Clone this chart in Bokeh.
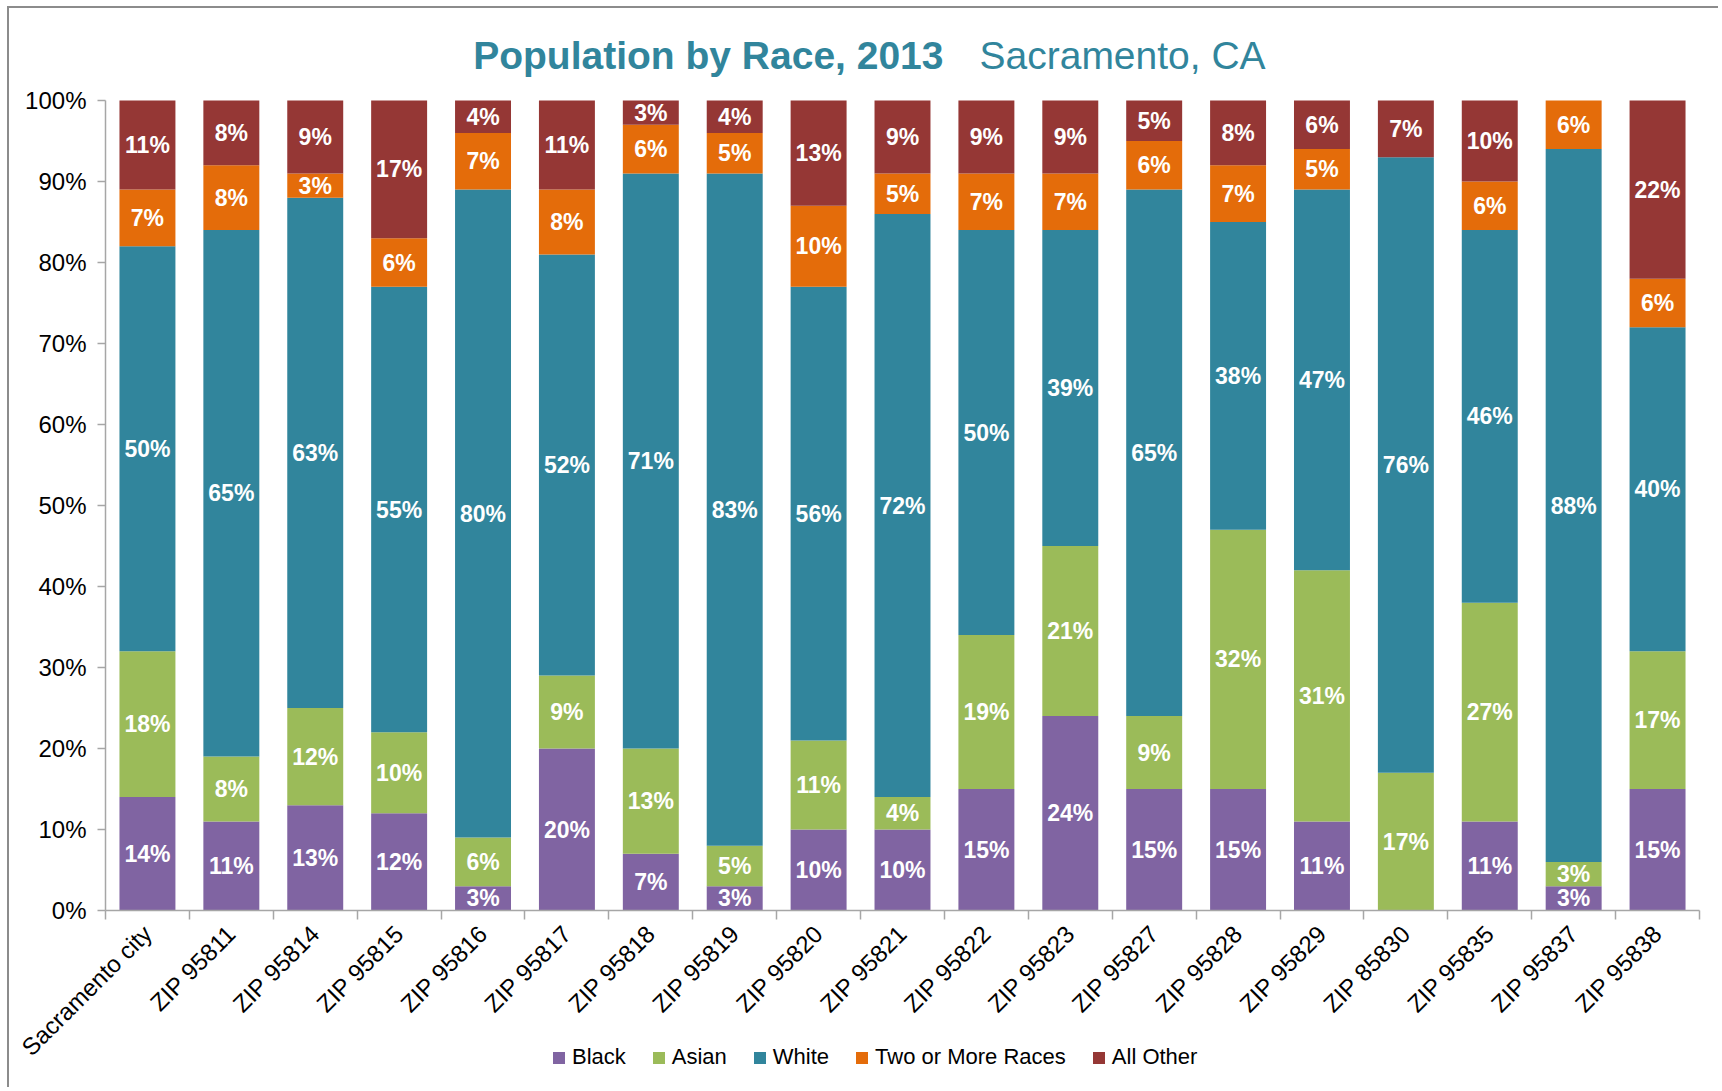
import numpy as np
from bokeh.plotting import figure
from bokeh.models import (Range1d, FixedTicker, PrintfTickFormatter, Label,
                          Legend, ColumnDataSource)
from bokeh.core.properties import value
from bokeh.embed import file_html
from bokeh.resources import INLINE

categories = ["Sacramento city", "ZIP 95811", "ZIP 95814", "ZIP 95815", "ZIP 95816",
              "ZIP 95817", "ZIP 95818", "ZIP 95819", "ZIP 95820", "ZIP 95821",
              "ZIP 95822", "ZIP 95823", "ZIP 95827", "ZIP 95828", "ZIP 95829",
              "ZIP 85830", "ZIP 95835", "ZIP 95837", "ZIP 95838"]
black       = [14, 11, 13, 12,  3, 20,  7,  3, 10, 10, 15, 24, 15, 15, 11,  0, 11,  3, 15]
asian       = [18,  8, 12, 10,  6,  9, 13,  5, 11,  4, 19, 21,  9, 32, 31, 17, 27,  3, 17]
white       = [50, 65, 63, 55, 80, 52, 71, 83, 56, 72, 50, 39, 65, 38, 47, 76, 46, 88, 40]
two_or_more = [ 7,  8,  3,  6,  7,  8,  6,  5, 10,  5,  7,  7,  6,  7,  5,  0,  6,  6,  6]
all_other   = [11,  8,  9, 17,  4, 11,  3,  4, 13,  9,  9,  9,  5,  8,  6,  7, 10,  0, 22]

series_names = ["Black", "Asian", "White", "Two or More Races", "All Other"]
series_keys = ["black", "asian", "white", "two_or_more", "all_other"]
colors = ["#8064A2", "#9BBB59", "#31859C", "#E46C0A", "#953735"]
y_ticks = list(range(0, 101, 10))
title_main = "Population by Race, 2013"
title_sub = "Sacramento, CA"

FONT = "Liberation Sans, Arial"
TEAL = "#31859C"
AXIS_GRAY = "#A6A6A6"

# ---- layout (page pixels) ----
FIG_X0, FIG_Y0 = 9, 8            # canvas origin on page (margin + border)
W, H = 1711, 1081
AX_L, AX_R = 105, 1699           # plot area left/right (page px)
AX_T, AX_B = 100, 910            # 100% and 0% (page px)
n = len(categories)
ppx = (AX_R - AX_L) / n          # px per category
ppy = (AX_B - AX_T) / 100.0      # px per percent

def px_x(px):
    return -0.5 + (px - AX_L) / ppx

def px_y(py):
    return (AX_B - py) / ppy

x_range = Range1d(px_x(FIG_X0), px_x(FIG_X0 + W))
y_range = Range1d(px_y(FIG_Y0 + H), px_y(FIG_Y0))

xs = list(range(n))
src = ColumnDataSource(dict(x=xs, black=black, asian=asian, white=white,
                            two_or_more=two_or_more, all_other=all_other))

p = figure(width=W, height=H, x_range=x_range, y_range=y_range,
           output_backend="svg", toolbar_location=None,
           min_border_left=0, min_border_right=0, min_border_top=0,
           min_border_bottom=0)
p.margin = (6, 0, 0, 7)
p.styles = {"border-left": "2px solid #8C8C8C", "border-top": "2px solid #8C8C8C"}

renderers = p.vbar_stack(series_keys, x="x", width=0.667, fill_color=colors,
                         line_color=None, source=src)

# segment labels
lx, ly, lt = [], [], []
series_vals = [black, asian, white, two_or_more, all_other]
bottom = np.zeros(n)
for vals in series_vals:
    v = np.array(vals, dtype=float)
    for i in range(n):
        if v[i] > 0:
            lx.append(xs[i])
            ly.append(bottom[i] + v[i] / 2)
            lt.append(f"{int(v[i])}%")
    bottom += v
lsrc = ColumnDataSource(dict(x=lx, y=ly, t=lt))
p.text(x="x", y="y", text="t", source=lsrc, text_color="white",
       text_font=value(FONT), text_font_style="bold", text_font_size="23px",
       text_align="center", text_baseline="middle")

# titles
p.add_layout(Label(x=px_x(943), y=px_y(55), text=title_main, text_align="right",
                   text_baseline="middle", text_color=TEAL,
                   text_font=FONT, text_font_style="bold", text_font_size="39px"))
p.add_layout(Label(x=px_x(979), y=px_y(55), text=title_sub, text_align="left",
                   text_baseline="middle", text_color=TEAL,
                   text_font=FONT, text_font_size="39px"))

# axes
p.xgrid.visible = False
p.ygrid.visible = False
p.outline_line_color = None

ax = p.xaxis[0]
ax.fixed_location = 0
ax.bounds = (-0.5, n - 0.5)
ax.ticker = FixedTicker(ticks=xs, minor_ticks=[i - 0.5 for i in range(n + 1)])
ax.major_label_overrides = {i: c for i, c in enumerate(categories)}
ax.major_label_orientation = np.pi / 4
ax.major_tick_out = 0
ax.major_tick_in = 0
ax.major_tick_line_color = None
ax.minor_tick_out = 9
ax.minor_tick_in = 0
ax.minor_tick_line_color = AXIS_GRAY
ax.minor_tick_line_width = 1.5
ax.axis_line_color = AXIS_GRAY
ax.axis_line_width = 1.5
ax.major_label_text_font = FONT
ax.major_label_text_font_size = "24px"
ax.major_label_text_color = "#000000"
ax.major_label_standoff = 10

ay = p.yaxis[0]
ay.fixed_location = -0.5
ay.bounds = (0, 100)
ay.ticker = FixedTicker(ticks=y_ticks)
ay.formatter = PrintfTickFormatter(format="%d%%")
ay.major_tick_out = 8
ay.major_tick_in = 0
ay.major_tick_line_color = AXIS_GRAY
ay.major_tick_line_width = 1.5
ay.minor_tick_line_color = None
ay.axis_line_color = AXIS_GRAY
ay.axis_line_width = 1.5
ay.major_label_text_font = FONT
ay.major_label_text_font_size = "24px"
ay.major_label_text_color = "#000000"
ay.major_label_standoff = 11

legend = Legend(items=[(nm, [r]) for nm, r in zip(series_names, renderers)],
                location=(542, 19), orientation="horizontal",
                glyph_width=15, glyph_height=15, label_standoff=6, spacing=25,
                padding=0, margin=0, border_line_color=None,
                background_fill_alpha=0, label_text_font=FONT,
                label_text_font_size="22px", label_text_color="#000000")
p.add_layout(legend)

open("out.html", "w").write(file_html(p, INLINE))
